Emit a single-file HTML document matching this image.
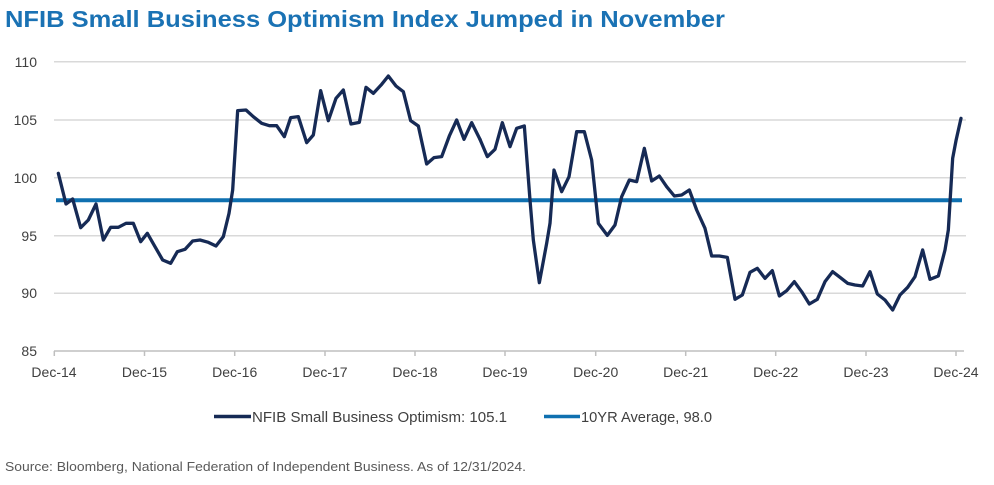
<!DOCTYPE html>
<html><head><meta charset="utf-8"><style>
html,body{margin:0;padding:0;background:#fff;}
svg{display:block;}
text{font-family:"Liberation Sans",Arial,sans-serif;}
</style></head><body>
<svg width="994" height="485" viewBox="0 0 994 485" xmlns="http://www.w3.org/2000/svg">
<text x="5" y="27" font-size="23" font-weight="bold" fill="#1a72b4" textLength="720" lengthAdjust="spacingAndGlyphs">NFIB Small Business Optimism Index Jumped in November</text>
<g stroke="#d9d9d9" stroke-width="1.5">
<line x1="54" y1="61.7" x2="966" y2="61.7"/>
<line x1="54" y1="120" x2="966" y2="120"/>
<line x1="54" y1="177.7" x2="966" y2="177.7"/>
<line x1="54" y1="235.7" x2="966" y2="235.7"/>
<line x1="54" y1="293.3" x2="966" y2="293.3"/>
</g>
<g stroke="#bfbfbf" stroke-width="1.5">
<line x1="54" y1="351" x2="964" y2="351"/>
<line x1="54.3" y1="351" x2="54.3" y2="356"/><line x1="144.5" y1="351" x2="144.5" y2="356"/>
<line x1="234.7" y1="351" x2="234.7" y2="356"/><line x1="325" y1="351" x2="325" y2="356"/>
<line x1="415" y1="351" x2="415" y2="356"/><line x1="505" y1="351" x2="505" y2="356"/>
<line x1="595.7" y1="351" x2="595.7" y2="356"/><line x1="685.7" y1="351" x2="685.7" y2="356"/>
<line x1="775.7" y1="351" x2="775.7" y2="356"/><line x1="866" y1="351" x2="866" y2="356"/>
<line x1="956" y1="351" x2="956" y2="356"/>
</g>
<g font-size="14" fill="#404040" text-anchor="end">
<text x="37" y="67">110</text><text x="37" y="125">105</text><text x="37" y="183">100</text>
<text x="37" y="241">95</text><text x="37" y="298">90</text><text x="37" y="356">85</text>
</g>
<g font-size="14" fill="#404040" text-anchor="middle">
<text x="54" y="377">Dec-14</text><text x="144.5" y="377">Dec-15</text><text x="234.7" y="377">Dec-16</text>
<text x="325" y="377">Dec-17</text><text x="415" y="377">Dec-18</text><text x="505" y="377">Dec-19</text>
<text x="595.7" y="377">Dec-20</text><text x="685.7" y="377">Dec-21</text><text x="775.7" y="377">Dec-22</text>
<text x="866" y="377">Dec-23</text><text x="956" y="377">Dec-24</text>
</g>
<line x1="56" y1="200.3" x2="962" y2="200.3" stroke="#0f70b0" stroke-width="4"/>
<g fill="none" stroke="#162a55" stroke-width="3.3" stroke-linejoin="round" stroke-linecap="round">
<polyline vector-effect="non-scaling-stroke" transform="translate(40,50) scale(0.33333)" points="55,370 78,462 98,447 122,533 145,510 168,462 190,570 212,532 235,532 258,520 280,520 302,575 322,550 345,590 368,630 392,640 412,605 435,598 458,573 480,570 505,577 528,588 550,560 567,490 578,420 593,182 618,180 640,200 665,220 688,227 710,227 733,260 752,203 775,200 800,278 820,255 842,122 865,212 888,145 910,120 933,222 958,217 978,112 1000,130 1025,103 1045,78 1068,108 1090,125 1112,212 1135,228 1160,342 1182,323 1205,320 1228,258 1250,210 1272,268 1295,218 1320,268"/>
<polyline vector-effect="non-scaling-stroke" transform="translate(480,50) scale(0.33333)" points="0,268 22,320 45,298 67,218 90,290 110,235 133,228 150,450 160,570 178,698 200,580 210,520 222,360 245,425 267,380 290,245 313,245 335,330 355,520 382,556 405,525 425,440 448,390 470,395 493,295 515,393 538,378 560,410 583,438 605,435 628,420 650,480 675,535 695,618 718,618 742,622 765,748 787,735 810,667 832,655 855,685 877,662 898,738 920,722 943,695 965,725 988,762 1012,748 1035,695 1058,665 1080,682 1103,700 1125,705 1148,708 1170,665 1192,732 1215,750 1238,780 1260,735 1283,712 1305,680 1328,600 1350,688 1375,678 1395,600 1405,540 1418,325 1428,272 1443,205"/>
</g>
<line x1="214" y1="416.5" x2="251" y2="416.5" stroke="#162a55" stroke-width="3.5"/>
<text x="252" y="422" font-size="15" fill="#404040" textLength="255" lengthAdjust="spacingAndGlyphs">NFIB Small Business Optimism: 105.1</text>
<line x1="544" y1="416.5" x2="580" y2="416.5" stroke="#0f70b0" stroke-width="3.5"/>
<text x="581" y="422" font-size="15" fill="#404040" textLength="131" lengthAdjust="spacingAndGlyphs">10YR Average, 98.0</text>
<text x="5" y="471" font-size="13" fill="#595959" textLength="521" lengthAdjust="spacingAndGlyphs">Source: Bloomberg, National Federation of Independent Business. As of 12/31/2024.</text>
</svg>
</body></html>
